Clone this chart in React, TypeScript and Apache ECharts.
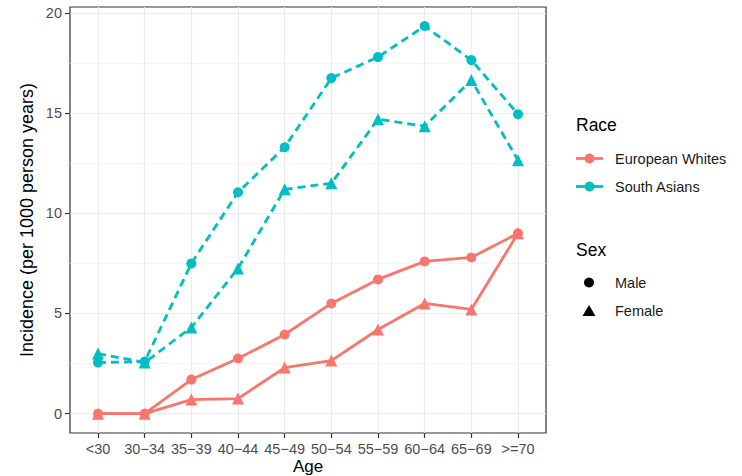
import React, { useEffect, useRef } from "react";
import * as echarts from "echarts";

const categories = ["<30", "30\u221234", "35\u221239", "40\u221244", "45\u221249", "50\u221254", "55\u221259", "60\u221264", "65\u221269", ">=70"];
const ewMale = [0, 0, 1.7, 2.75, 3.95, 5.5, 6.7, 7.6, 7.8, 9.0];
const ewFemale = [0, 0, 0.7, 0.75, 2.3, 2.65, 4.2, 5.5, 5.2, 9.0];
const saMale = [2.55, 2.6, 7.5, 11.05, 13.3, 16.75, 17.8, 19.35, 17.65, 14.95];
const saFemale = [3.0, 2.55, 4.3, 7.25, 11.2, 11.5, 14.7, 14.35, 16.65, 12.65];
const yTicks = [0, 5, 10, 15, 20];
const yMinor = [2.5, 7.5, 12.5, 17.5];
const raceNames = ["European Whites", "South Asians"];
const sexNames = ["Male", "Female"];

const RED = "#F8766D";
const TEAL = "#00BFC4";
const FONT = "'Liberation Sans', Arial, Helvetica, sans-serif";

export default function App() {
  const ref = useRef<HTMLDivElement>(null);
  useEffect(() => {
    if (!ref.current) return;
    const chart = echarts.init(ref.current, undefined, { renderer: "svg" });
    const xIdx = categories.map((_, i) => i);
    const toPts = (arr: number[]) => arr.map((v, i) => [i, v]);
    const majorStyle = { color: "#EBEBEB", width: 1.2, type: "solid" as const };
    const minorStyle = { color: "#F3F3F3", width: 0.8, type: "solid" as const };
    const gridLines = [
      ...xIdx.map((i) => ({ xAxis: i, lineStyle: majorStyle })),
      ...yTicks.map((v) => ({ yAxis: v, lineStyle: majorStyle })),
      ...yMinor.map((v) => ({ yAxis: v, lineStyle: minorStyle })),
    ];
    const solid = { width: 2.8 };
    const dashed = { width: 2.8, type: [8, 5] as any };
    const lx = 576;
    const keyY = [158.5, 186.5];
    const sexY = [282.5, 311];
    const legendText = (text: string, x: number, y: number, size: number, color = "#1A1A1A") => ({
      type: "text",
      x,
      y,
      style: { text, fontSize: size, fontFamily: FONT, fill: color, verticalAlign: "middle", align: "left" },
    });
    chart.setOption({
      animation: false,
      backgroundColor: "#FFFFFF",
      grid: {
        left: 70,
        top: 7,
        right: 196,
        bottom: 43,
        containLabel: false,
        outerBoundsMode: "none",
        show: true,
        backgroundColor: "#FFFFFF",
        borderColor: "#333333",
        borderWidth: 1.2,
      },
      xAxis: {
        type: "value",
        min: -0.6,
        max: 9.6,
        name: "Age",
        nameLocation: "middle",
        nameGap: 25,
        nameMoveOverlap: false,
        nameTextStyle: { fontSize: 17, color: "#000000", fontFamily: FONT },
        axisLine: { show: false, onZero: false },
        axisTick: { show: true, length: 5, customValues: xIdx, lineStyle: { color: "#333333", width: 1.2 } },
        axisLabel: {
          customValues: xIdx,
          formatter: (v: number) => categories[Math.round(v)] ?? "",
          fontSize: 14.5,
          color: "#4D4D4D",
          fontFamily: FONT,
          margin: 8,
        },
        splitLine: { show: false },
      },
      yAxis: {
        type: "value",
        min: -0.967,
        max: 20.3,
        name: "Incidence (per 1000 person years)",
        nameLocation: "middle",
        nameGap: 34,
        nameMoveOverlap: false,
        nameTextStyle: { fontSize: 18, color: "#000000", fontFamily: FONT },
        axisLine: { show: false, onZero: false },
        axisTick: { show: true, length: 5, customValues: yTicks, lineStyle: { color: "#333333", width: 1.2 } },
        axisLabel: {
          customValues: yTicks,
          fontSize: 14.5,
          color: "#4D4D4D",
          fontFamily: FONT,
          margin: 8,
        },
        splitLine: { show: false },
      },
      series: [
        {
          name: "grid",
          type: "line",
          data: [],
          silent: true,
          markLine: { silent: true, symbol: ["none", "none"], label: { show: false }, z: 1, data: gridLines, animation: false },
        },
        {
          name: raceNames[0] + " " + sexNames[0],
          type: "line",
          z: 3,
          data: toPts(ewMale),
          itemStyle: { color: RED },
          lineStyle: { ...solid, color: RED },
          symbol: "circle",
          symbolSize: 10,
        },
        {
          name: raceNames[0] + " " + sexNames[1],
          type: "line",
          z: 3,
          data: toPts(ewFemale),
          itemStyle: { color: RED },
          lineStyle: { ...solid, color: RED },
          symbol: "triangle",
          symbolSize: 12,
        },
        {
          name: raceNames[1] + " " + sexNames[0],
          type: "line",
          z: 3,
          data: toPts(saMale),
          itemStyle: { color: TEAL },
          lineStyle: { ...dashed, color: TEAL },
          symbol: "circle",
          symbolSize: 10,
        },
        {
          name: raceNames[1] + " " + sexNames[1],
          type: "line",
          z: 3,
          data: toPts(saFemale),
          itemStyle: { color: TEAL },
          lineStyle: { ...dashed, color: TEAL },
          symbol: "triangle",
          symbolSize: 12,
        },
      ],
      graphic: [
        legendText("Race", lx, 125, 17.5, "#000000"),
        ...raceNames.flatMap((n, i) => {
          const c = i === 0 ? RED : TEAL;
          return [
            { type: "line", shape: { x1: lx, y1: keyY[i], x2: lx + 27, y2: keyY[i] }, style: { stroke: c, lineWidth: 2.8 } },
            { type: "circle", shape: { cx: lx + 13.5, cy: keyY[i], r: 5 }, style: { fill: c } },
            legendText(n, 615, keyY[i], 14.5),
          ];
        }),
        legendText("Sex", lx, 250, 17.5, "#000000"),
        { type: "circle", shape: { cx: 589, cy: sexY[0], r: 5 }, style: { fill: "#000000" } },
        legendText(sexNames[0], 615, sexY[0], 14.5),
        {
          type: "polygon",
          shape: { points: [[589, sexY[1] - 6], [595.5, sexY[1] + 5], [582.5, sexY[1] + 5]] },
          style: { fill: "#000000" },
        },
        legendText(sexNames[1], 615, sexY[1], 14.5),
      ],
    });
    return () => chart.dispose();
  }, []);
  return <div ref={ref} style={{ position: "absolute", left: 0, top: 0, width: 742, height: 476 }} />;
}
